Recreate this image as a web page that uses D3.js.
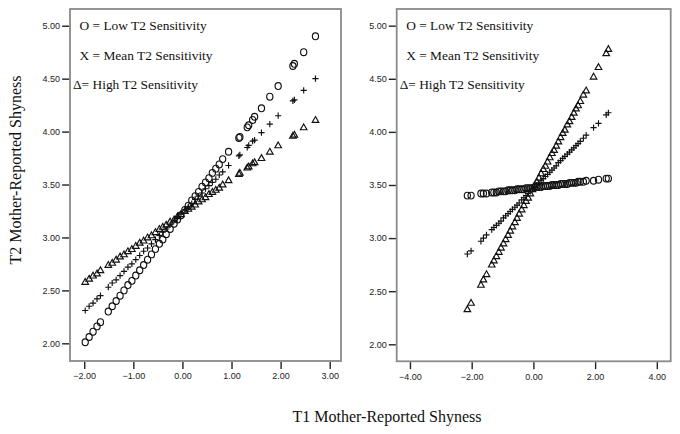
<!DOCTYPE html>
<html>
<head>
<meta charset="utf-8">
<script src="https://cdn.jsdelivr.net/npm/d3@7"></script>
<style>
  html, body { margin: 0; padding: 0; background: #fff; }
  svg { display: block; }
</style>
</head>
<body>
<svg id="chart" width="680" height="434"></svg>
<script>
// ---------- data ----------
const yTicks = [2.00, 2.50, 3.00, 3.50, 4.00, 4.50, 5.00];
const leftXTicks = [-2, -1, 0, 1, 2, 3];
const rightXTicks = [-4, -2, 0, 2, 4];
const legendLabels = ["O = Low T2 Sensitivity", "X = Mean T2 Sensitivity", "\u0394= High T2 Sensitivity"];
const xTitle = "T1 Mother-Reported Shyness";
const yTitle = "T2 Mother-Reported Shyness";

// Left panel: T1 shyness (x) and predicted T2 shyness for each sensitivity level
const leftX = [-1.98, -1.90, -1.82, -1.74, -1.67, -1.51, -1.43, -1.35, -1.27, -1.19, -1.11, -1.03, -0.95, -0.87, -0.79, -0.71, -0.63, -0.55, -0.47, -0.40, -0.33, -0.25, -0.17, -0.10, -0.03, 0.05, 0.12, 0.19, 0.26, 0.33, 0.40, 0.47, 0.54, 0.61, 0.68, 0.75, 0.82, 0.94, 1.15, 1.17, 1.32, 1.35, 1.43, 1.47, 1.61, 1.78, 1.95, 2.25, 2.28, 2.47, 2.71];
const leftLow = [2.01, 2.06, 2.11, 2.16, 2.20, 2.30, 2.35, 2.40, 2.45, 2.50, 2.55, 2.59, 2.64, 2.69, 2.74, 2.79, 2.84, 2.89, 2.94, 2.98, 3.03, 3.08, 3.13, 3.17, 3.21, 3.26, 3.30, 3.35, 3.39, 3.43, 3.48, 3.52, 3.56, 3.61, 3.65, 3.69, 3.74, 3.81, 3.94, 3.95, 4.04, 4.06, 4.11, 4.14, 4.22, 4.33, 4.43, 4.62, 4.64, 4.75, 4.90];
const leftMean = [2.31, 2.35, 2.38, 2.42, 2.45, 2.53, 2.57, 2.60, 2.64, 2.68, 2.72, 2.75, 2.79, 2.83, 2.87, 2.90, 2.94, 2.98, 3.02, 3.05, 3.08, 3.12, 3.16, 3.19, 3.22, 3.26, 3.29, 3.32, 3.36, 3.39, 3.42, 3.46, 3.49, 3.52, 3.55, 3.59, 3.62, 3.68, 3.77, 3.78, 3.85, 3.87, 3.91, 3.92, 3.99, 4.07, 4.15, 4.29, 4.30, 4.39, 4.50];
const leftHigh = [2.58, 2.61, 2.64, 2.66, 2.69, 2.74, 2.76, 2.79, 2.82, 2.84, 2.87, 2.89, 2.92, 2.95, 2.97, 3.00, 3.02, 3.05, 3.08, 3.10, 3.12, 3.15, 3.17, 3.20, 3.22, 3.25, 3.27, 3.29, 3.31, 3.34, 3.36, 3.38, 3.41, 3.43, 3.45, 3.47, 3.50, 3.54, 3.60, 3.61, 3.66, 3.67, 3.70, 3.71, 3.75, 3.81, 3.87, 3.96, 3.97, 4.04, 4.11];

// Right panel
const rightX = [-2.14, -2.02, -1.70, -1.62, -1.52, -1.35, -1.28, -1.20, -1.12, -1.05, -0.97, -0.90, -0.82, -0.75, -0.68, -0.60, -0.53, -0.46, -0.38, -0.31, -0.24, -0.17, -0.10, -0.03, 0.04, 0.11, 0.18, 0.25, 0.32, 0.39, 0.46, 0.53, 0.60, 0.67, 0.74, 0.81, 0.88, 0.95, 1.02, 1.10, 1.17, 1.24, 1.31, 1.38, 1.45, 1.52, 1.62, 1.71, 1.95, 2.11, 2.36, 2.43];
const rightLow = [3.40, 3.40, 3.42, 3.42, 3.42, 3.43, 3.43, 3.43, 3.44, 3.44, 3.44, 3.44, 3.45, 3.45, 3.45, 3.45, 3.46, 3.46, 3.46, 3.46, 3.47, 3.47, 3.47, 3.47, 3.48, 3.48, 3.48, 3.48, 3.49, 3.49, 3.49, 3.49, 3.50, 3.50, 3.50, 3.50, 3.51, 3.51, 3.51, 3.51, 3.52, 3.52, 3.52, 3.52, 3.53, 3.53, 3.53, 3.54, 3.54, 3.55, 3.56, 3.56];
const rightMean = [2.85, 2.88, 2.97, 3.00, 3.03, 3.08, 3.10, 3.12, 3.14, 3.16, 3.19, 3.21, 3.23, 3.25, 3.27, 3.29, 3.31, 3.33, 3.36, 3.38, 3.40, 3.42, 3.44, 3.46, 3.48, 3.50, 3.52, 3.54, 3.56, 3.58, 3.60, 3.62, 3.64, 3.66, 3.68, 3.71, 3.73, 3.75, 3.77, 3.79, 3.81, 3.83, 3.85, 3.87, 3.89, 3.91, 3.94, 3.97, 4.04, 4.08, 4.16, 4.18];
const rightHigh = [2.33, 2.39, 2.56, 2.61, 2.66, 2.75, 2.79, 2.83, 2.87, 2.91, 2.95, 2.99, 3.03, 3.07, 3.11, 3.15, 3.19, 3.23, 3.27, 3.31, 3.35, 3.38, 3.42, 3.46, 3.50, 3.53, 3.57, 3.61, 3.65, 3.68, 3.72, 3.76, 3.80, 3.83, 3.87, 3.91, 3.95, 3.99, 4.02, 4.07, 4.10, 4.14, 4.18, 4.22, 4.25, 4.29, 4.35, 4.39, 4.52, 4.61, 4.74, 4.78];

// ---------- drawing ----------
const svg = d3.select("#chart");
const fmt = d3.format(".2f");
const ink = "#111";

const symbolPaths = {
  low: null,
  mean: "M-3.1,0H3.1M0,-3.1V3.1",
  high: "M0,-3.4L3.3,2.4L-3.3,2.4Z"
};

function panel(cfg) {
  const x = d3.scaleLinear().domain(cfg.xDomain).range([cfg.left, cfg.right]);
  const y = d3.scaleLinear().domain(cfg.yDomain).range([cfg.bottom, cfg.top]);
  const g = svg.append("g");

  // frame
  g.append("rect")
    .attr("x", cfg.left).attr("y", cfg.top)
    .attr("width", cfg.right - cfg.left).attr("height", cfg.bottom - cfg.top)
    .attr("fill", "none").attr("stroke", "#8a8a8a").attr("stroke-width", 1.8);

  // y axis
  const ya = g.append("g").attr("transform", `translate(${cfg.left - 0.9},0)`)
    .call(d3.axisLeft(y).tickValues(yTicks).tickFormat(fmt).tickSize(7).tickPadding(2));
  // x axis
  const xa = g.append("g").attr("transform", `translate(0,${cfg.bottom + 0.9})`)
    .call(d3.axisBottom(x).tickValues(cfg.xTicks).tickFormat(fmt).tickSize(7).tickPadding(4));
  [ya, xa].forEach(a => {
    a.select(".domain").remove();
    a.selectAll(".tick line").attr("stroke", "#222").attr("stroke-width", 1.4);
    a.selectAll(".tick text").attr("fill", "#222")
      .style("font-family", "'Liberation Sans', Arial, sans-serif").style("font-size", "9px");
  });

  // points
  const series = [
    {key: "low", ys: cfg.low},
    {key: "mean", ys: cfg.mean},
    {key: "high", ys: cfg.high}
  ];
  series.forEach(s => {
    const pts = cfg.xs.map((xv, i) => ({x: xv, y: s.ys[i]}));
    const sg = g.append("g");
    if (s.key === "low") {
      sg.selectAll("ellipse").data(pts).join("ellipse")
        .attr("cx", d => x(d.x)).attr("cy", d => y(d.y))
        .attr("rx", 3.1).attr("ry", 3.4)
        .attr("fill", "none").attr("stroke", ink).attr("stroke-width", 1.15);
    } else {
      sg.selectAll("path").data(pts).join("path")
        .attr("transform", d => `translate(${x(d.x)},${y(d.y)})`)
        .attr("d", symbolPaths[s.key])
        .attr("fill", "none").attr("stroke", ink).attr("stroke-width", 1.15);
    }
  });

  // legend
  const leg = g.append("g")
    .style("font-family", "'Liberation Serif', 'Times New Roman', serif")
    .style("font-size", "13.4px").attr("fill", "#111");
  legendLabels.forEach((t, i) => {
    leg.append("text")
      .attr("x", i === 2 ? cfg.left + 3 : cfg.left + 9.5)
      .attr("y", cfg.legendY[i])
      .text(t);
  });
}

panel({
  left: 70, right: 341, top: 9, bottom: 361,
  xDomain: [-2.29, 3.23], yDomain: [1.833, 5.158],
  xTicks: leftXTicks, xs: leftX, low: leftLow, mean: leftMean, high: leftHigh,
  legendY: [30, 59.5, 89]
});
panel({
  left: 396.7, right: 670.7, top: 9, bottom: 361.3,
  xDomain: [-4.43, 4.45], yDomain: [1.84, 5.157],
  xTicks: rightXTicks, xs: rightX, low: rightLow, mean: rightMean, high: rightHigh,
  legendY: [30, 59.5, 89]
});

// axis titles
svg.append("text")
  .attr("x", 387).attr("y", 421.5).attr("text-anchor", "middle")
  .style("font-family", "'Liberation Serif', 'Times New Roman', serif").style("font-size", "16px")
  .attr("fill", "#111").text(xTitle);
svg.append("text")
  .attr("transform", "translate(21,170) rotate(-90)").attr("text-anchor", "middle")
  .style("font-family", "'Liberation Serif', 'Times New Roman', serif").style("font-size", "16px")
  .attr("fill", "#111").text(yTitle);
</script>
</body>
</html>
